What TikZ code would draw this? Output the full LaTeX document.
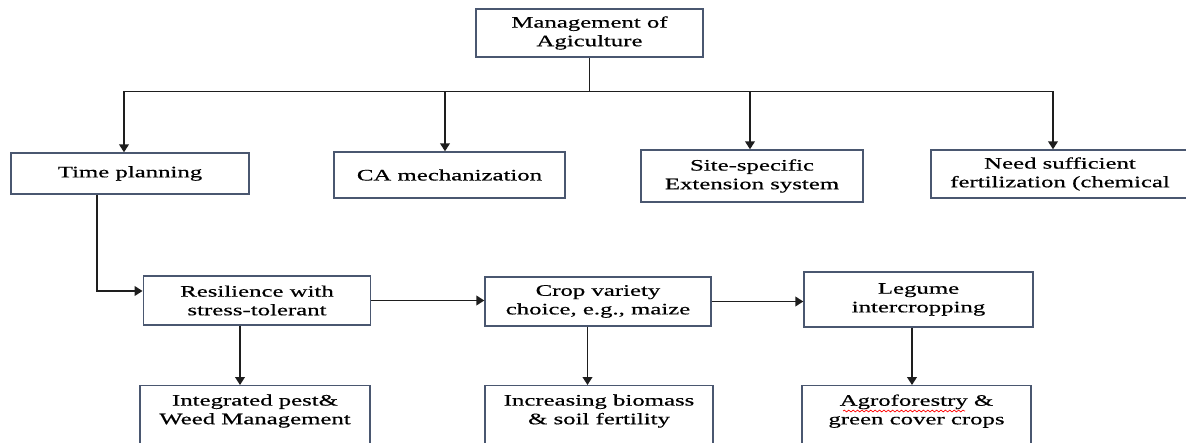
\documentclass[tikz,border=0pt]{standalone}
\usepackage{fontspec}
\setmainfont{Liberation Serif}[FakeStretch=1.55,FakeBold=0.5]
\usetikzlibrary{arrows.meta,positioning,calc,decorations.pathmorphing}
\definecolor{boxline}{HTML}{4A5770}
\definecolor{wire}{HTML}{1E1E1E}

\begin{document}
\begin{tikzpicture}[
  box/.style={draw=boxline,line width=0.8pt,align=center,inner sep=2pt},
  low/.style={anchor=north,text depth=1.4cm,inner ysep=5pt},
  arr/.style={-{Triangle[width=5.5pt,length=4.5pt]},wire,line width=0.85pt},
  every node/.style={font=\fontsize{9.1}{10.6}\selectfont},
]
  \useasboundingbox (0,0) rectangle (23.72,8.86);
  \clip (0,0) rectangle (23.72,8.86);

  % Top
  \node[box,minimum width=4.54cm,minimum height=0.96cm] (mgmt) at (11.79,8.2) {Management of \\ Agiculture};

  % First row
  \node[box,minimum width=4.76cm,minimum height=0.82cm] (time) at (2.6,5.39) {Time planning};
  \node[box,minimum width=4.62cm,minimum height=0.92cm] (camech) at (8.99,5.36) {CA mechanization};
  \node[box,minimum width=4.44cm,minimum height=1.04cm] (site) at (15.04,5.34) {Site-specific \\ Extension system};
  \node[box,minimum width=5.16cm,minimum height=0.96cm] (fert) at (21.2,5.38) {Need sufficient \\ fertilization (chemical};

  % Second row
  \node[box,minimum width=4.55cm,minimum height=0.98cm] (resil) at (5.14,2.85) {Resilience with \\ stress-tolerant};
  \node[box,minimum width=4.52cm,minimum height=0.98cm] (crop) at (11.96,2.83) {Crop variety \\ choice, e.g., maize};
  \node[box,minimum width=4.58cm,minimum height=1.1cm] (legume) at (18.37,2.87) {Legume \\ intercropping};

  % Bottom row
  \node[box,low,minimum width=4.6cm] (ipm) at (5.1,1.16) {Integrated pest\& \\ Weed Management};
  \node[box,low,minimum width=4.56cm] (biomass) at (11.98,1.16) {Increasing biomass \\ \& soil fertility};
  \node[box,low,minimum width=4.58cm] (agro) at (18.33,1.16) {Agroforestry \& \\ green cover crops};

  % Branches from the top
  \coordinate (bus) at ($(mgmt.south)+(0,-0.68)$);
  \draw[wire,line width=0.85pt] (mgmt.south) -- (bus);
  \draw[arr] (bus) -| ([xshift=-0.12cm]time.north);
  \draw[arr] (bus) -| ([xshift=-0.09cm]camech.north);
  \draw[arr] (bus) -| ([xshift=-0.04cm]site.north);
  \draw[arr] (bus) -| ([xshift=-0.14cm]fert.north);

  % Chain
  \draw[arr] ([xshift=-0.66cm]time.south) |- ([yshift=0.19cm]resil.west);
  \draw[arr] (resil.east) -- (crop.west |- resil.east);
  \draw[arr] (crop.east) -- (legume.west |- crop.east);

  % Down
  \draw[arr] ([xshift=-0.34cm]resil.south) -- ([xshift=-0.34cm]resil.south |- ipm.north);
  \draw[arr] ([xshift=-0.21cm]crop.south) -- ([xshift=-0.21cm]crop.south |- biomass.north);
  \draw[arr] ([xshift=-0.13cm]legume.south) -- ([xshift=-0.13cm]legume.south |- agro.north);

  % spell mark
  \draw[red,line width=0.4pt,decorate,decoration={snake,amplitude=0.5pt,segment length=2.5pt}]
    ([xshift=-1.47cm,yshift=-0.52cm]agro.north) -- ([xshift=0.97cm,yshift=-0.52cm]agro.north);
\end{tikzpicture}
\end{document}
